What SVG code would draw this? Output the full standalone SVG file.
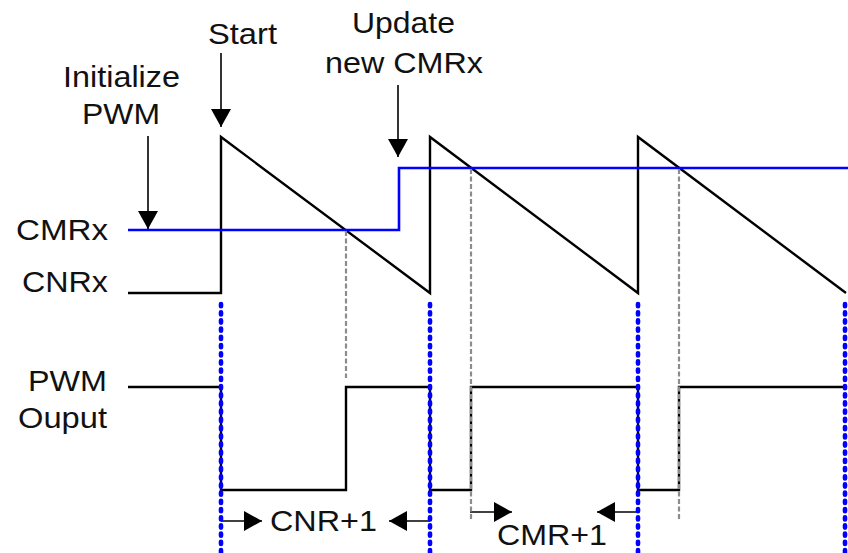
<svg xmlns="http://www.w3.org/2000/svg" width="848" height="553" viewBox="0 0 848 553">
<style>
.t{font-family:"Liberation Sans",Arial,sans-serif;font-size:30px;fill:#111}
.blk{fill:none;stroke:#000;stroke-width:2.4;stroke-linejoin:miter}
.cmr{fill:none;stroke:#0000ff;stroke-width:2.6}
.grey{fill:none;stroke:#8c8c8c;stroke-width:2.2;stroke-dasharray:5 2.5}
.dot{fill:none;stroke:#0000ff;stroke-width:4.6;stroke-linecap:round;stroke-dasharray:2.2 6}
.arr{fill:none;stroke:#000;stroke-width:1.6}
</style>
<defs>
<marker id="ah" viewBox="0 0 18 20" markerWidth="18" markerHeight="20" refX="18" refY="10" orient="auto" markerUnits="userSpaceOnUse">
<path d="M0,0 L18,10 L0,20 z" fill="#000"/>
</marker>
</defs>
<g id="labels">
<text class="t" x="208" y="44" textLength="69" lengthAdjust="spacingAndGlyphs">Start</text>
<text class="t" x="63" y="87" textLength="117" lengthAdjust="spacingAndGlyphs">Initialize</text>
<text class="t" x="82" y="124" textLength="78" lengthAdjust="spacingAndGlyphs">PWM</text>
<text class="t" x="352" y="33" textLength="103" lengthAdjust="spacingAndGlyphs">Update</text>
<text class="t" x="325" y="73" textLength="158" lengthAdjust="spacingAndGlyphs">new CMRx</text>
<text class="t" x="16" y="240" textLength="92" lengthAdjust="spacingAndGlyphs">CMRx</text>
<text class="t" x="22" y="292" textLength="86" lengthAdjust="spacingAndGlyphs">CNRx</text>
<text class="t" x="28" y="391" textLength="79" lengthAdjust="spacingAndGlyphs">PWM</text>
<text class="t" x="18" y="428" textLength="89" lengthAdjust="spacingAndGlyphs">Ouput</text>
<text class="t" x="270" y="531" textLength="107" lengthAdjust="spacingAndGlyphs">CNR+1</text>
<text class="t" x="497" y="545" textLength="110" lengthAdjust="spacingAndGlyphs">CMR+1</text>
</g>
<g id="cnrx-signal">
<path class="blk" d="M128,293 H221 V137 L430,293 V137 L638,293 V137 L846,293"/>
</g>
<g id="cmrx-signal">
<path class="cmr" d="M128,230 H399 V168 H848"/>
</g>
<g id="pwm-output">
<path class="blk" d="M128,387 H221 V490 H346 V387 H430 V490 H471 V387 H638 V490 H679 V387 H845"/>
</g>
<g id="connectors">
<line class="arr" x1="221" y1="53" x2="221" y2="127" marker-end="url(#ah)"/>
<line class="arr" x1="148" y1="136" x2="148" y2="229" marker-end="url(#ah)"/>
<line class="arr" x1="398" y1="85" x2="398" y2="157" marker-end="url(#ah)"/>
<line class="arr" x1="221" y1="521" x2="262" y2="521" marker-end="url(#ah)"/>
<line class="arr" x1="430" y1="521" x2="389" y2="521" marker-end="url(#ah)"/>
<line class="arr" x1="470" y1="512" x2="512" y2="512" marker-end="url(#ah)"/>
<line class="arr" x1="637" y1="512" x2="597" y2="512" marker-end="url(#ah)"/>
<line class="grey" x1="346" y1="231" x2="346" y2="378"/>
<line class="grey" x1="471" y1="169" x2="471" y2="521"/>
<line class="grey" x1="679" y1="169" x2="679" y2="521"/>
<line class="dot" x1="221" y1="304" x2="221" y2="553"/>
<line class="dot" x1="430" y1="304" x2="430" y2="553"/>
<line class="dot" x1="638" y1="304" x2="638" y2="553"/>
<line class="dot" x1="845" y1="304" x2="845" y2="553"/>
</g>
</svg>
